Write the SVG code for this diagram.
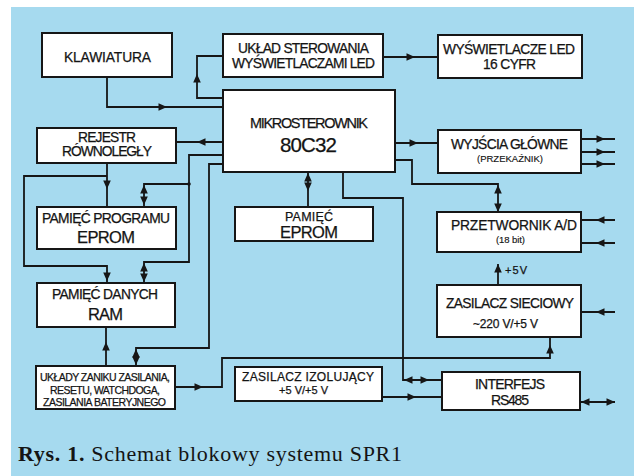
<svg xmlns="http://www.w3.org/2000/svg" xmlns:xlink="http://www.w3.org/1999/xlink" width="634" height="476" viewBox="0 0 634 476">
  <style>
    .box { fill: #ffffff; stroke: #161616; stroke-width: 2; }
    .wire { fill: none; stroke: #161616; stroke-width: 1.8; stroke-linejoin: miter; }
    .head { fill: #161616; }
    .lbl { font-family: "Liberation Sans", Arial, sans-serif; fill: #141414; stroke: #141414; stroke-width: 0.25; text-anchor: middle; font-size: 13.8px; }
    .big { font-size: 16.5px; }
    .huge { font-size: 20.5px; }
    .sm { font-size: 9.5px; stroke-width: 0.15; }
    .xs { font-size: 10.5px; }
    .mid { font-size: 12px; }
    .cap { font-family: "Liberation Serif", "Times New Roman", serif; fill: #141414; font-size: 22px; }
  </style>
  <defs>
    <!-- filled arrowhead, tip at the origin, pointing along +x -->
    <path id="ah" d="M0,0 L-8.5,-3.8 L-8.5,3.8 Z"/>
  </defs>

  <!-- page background -->
  <rect x="0" y="0" width="634" height="476" fill="#ffffff"/>
  <rect x="11" y="7" width="623" height="469" fill="#a6daef"/>

  <!-- connectors -->
  <g id="connectors">
    <g class="wire">
      <path d="M107,77 V107 H223"/>
      <path d="M223,98 H197 V56 H223"/>
      <path d="M383,57 H438"/>
      <path d="M223,142 H176"/>
      <path d="M395,143 H438"/>
      <path d="M581,139 H615 M581,152 H615 M581,164 H615"/>
      <path d="M395,160 H412 V184 H498 V212"/>
      <path d="M615,220 H581 M615,243 H581"/>
      <path d="M498,285 V264"/>
      <path d="M615,312 H581"/>
      <path d="M308,172 V207"/>
      <path d="M223,155 H189 V262 H144 V283"/>
      <path d="M189,184 H144 V207"/>
      <path d="M223,164 H209 V348 H136 V366"/>
      <path d="M107,163 V207"/>
      <path d="M107,176 H24 V266 H107 V283"/>
      <path d="M106,366 V327"/>
      <path d="M175,387 H222 V358 H550 V337"/>
      <path d="M343,172 V198 H403 V380 H442"/>
      <path d="M382,397 H442"/>
      <path d="M580,402 H615"/>
    </g>
    <circle cx="189" cy="184" r="1.8" class="head"/>
    <g class="head">
      <use xlink:href="#ah" transform="translate(167,107)"/>
      <use xlink:href="#ah" transform="translate(197,74) rotate(-90)"/>
      <use xlink:href="#ah" transform="translate(415,57)"/>
      <use xlink:href="#ah" transform="translate(197,142) rotate(180)"/>
      <use xlink:href="#ah" transform="translate(418,143)"/>
      <use xlink:href="#ah" transform="translate(605,139)"/>
      <use xlink:href="#ah" transform="translate(605,152)"/>
      <use xlink:href="#ah" transform="translate(605,164)"/>
      <use xlink:href="#ah" transform="translate(498,185) rotate(-90)"/>
      <use xlink:href="#ah" transform="translate(498,212) rotate(90)"/>
      <use xlink:href="#ah" transform="translate(596,220) rotate(180)"/>
      <use xlink:href="#ah" transform="translate(596,243) rotate(180)"/>
      <use xlink:href="#ah" transform="translate(498,264) rotate(-90)"/>
      <use xlink:href="#ah" transform="translate(596,312) rotate(180)"/>
      <use xlink:href="#ah" transform="translate(308,173) rotate(-90)"/>
      <use xlink:href="#ah" transform="translate(308,191) rotate(90)"/>
      <use xlink:href="#ah" transform="translate(144,185) rotate(-90)"/>
      <use xlink:href="#ah" transform="translate(144,205) rotate(90)"/>
      <use xlink:href="#ah" transform="translate(144,263) rotate(-90)"/>
      <use xlink:href="#ah" transform="translate(144,282) rotate(90)"/>
      <use xlink:href="#ah" transform="translate(136,349) rotate(-90)"/>
      <use xlink:href="#ah" transform="translate(136,365) rotate(90)"/>
      <use xlink:href="#ah" transform="translate(107,189) rotate(90)"/>
      <use xlink:href="#ah" transform="translate(107,281) rotate(90)"/>
      <use xlink:href="#ah" transform="translate(106,342) rotate(-90)"/>
      <use xlink:href="#ah" transform="translate(203,387)"/>
      <use xlink:href="#ah" transform="translate(550,345) rotate(-90)"/>
      <use xlink:href="#ah" transform="translate(404,380) rotate(180)"/>
      <use xlink:href="#ah" transform="translate(429,380)"/>
      <use xlink:href="#ah" transform="translate(416,397)"/>
      <use xlink:href="#ah" transform="translate(581,402) rotate(180)"/>
      <use xlink:href="#ah" transform="translate(615,402)"/>
    </g>
  </g>

  <!-- blocks -->
  <g id="klawiatura">
    <rect class="box" x="42" y="33" width="130" height="44"/>
    <text class="lbl" x="107.5" y="62" textLength="87">KLAWIATURA</text>
  </g>
  <g id="uklad-sterowania">
    <rect class="box" x="223" y="34" width="160" height="43"/>
    <text class="lbl" x="303.5" y="53" textLength="131">UKŁAD STEROWANIA</text>
    <text class="lbl" x="303.5" y="68" textLength="143">WYŚWIETLACZAMI LED</text>
  </g>
  <g id="wyswietlacze">
    <rect class="box" x="438" y="35" width="144" height="43"/>
    <text class="lbl" x="509" y="54" textLength="132">WYŚWIETLACZE LED</text>
    <text class="lbl" x="509.5" y="69" textLength="53">16 CYFR</text>
  </g>
  <g id="mikrosterownik">
    <rect class="box" x="223" y="90" width="172" height="82"/>
    <text class="lbl" x="309" y="128" textLength="118" style="font-size:14.5px">MIKROSTEROWNIK</text>
    <text class="lbl huge" x="308.5" y="152" textLength="57">80C32</text>
  </g>
  <g id="rejestr">
    <rect class="box" x="37" y="128" width="139" height="35"/>
    <text class="lbl" x="107" y="142" textLength="58">REJESTR</text>
    <text class="lbl" x="107" y="155.5" textLength="90">RÓWNOLEGŁY</text>
  </g>
  <g id="wyjscia">
    <rect class="box" x="438" y="130" width="143" height="43"/>
    <text class="lbl" x="509.5" y="149" textLength="117">WYJŚCIA GŁÓWNE</text>
    <text class="lbl sm" x="510" y="162" textLength="66">(PRZEKAŹNIK)</text>
  </g>
  <g id="pamiec-programu">
    <rect class="box" x="37" y="207" width="139" height="42"/>
    <text class="lbl" x="106" y="223" textLength="128">PAMIĘĆ PROGRAMU</text>
    <text class="lbl big" x="106" y="243" textLength="58">EPROM</text>
  </g>
  <g id="pamiec-eprom">
    <rect class="box" x="235" y="207" width="138" height="34"/>
    <text class="lbl" x="309" y="221" textLength="48" style="font-size:12.5px">PAMIĘĆ</text>
    <text class="lbl big" x="309" y="238" textLength="58">EPROM</text>
  </g>
  <g id="przetwornik">
    <rect class="box" x="437" y="212" width="144" height="40"/>
    <text class="lbl" x="514" y="230" textLength="126">PRZETWORNIK A/D</text>
    <text class="lbl sm" x="510.5" y="243" textLength="29">(18 bit)</text>
  </g>
  <g id="plus5v">
    <text class="lbl" x="505" y="274" textLength="22" style="font-size:11px;text-anchor:start">+5V</text>
  </g>
  <g id="zasilacz-sieciowy">
    <rect class="box" x="437" y="285" width="144" height="52"/>
    <text class="lbl" x="510" y="308" textLength="128">ZASILACZ SIECIOWY</text>
    <text class="lbl mid" x="505.5" y="328" textLength="65">~220 V/+5 V</text>
  </g>
  <g id="pamiec-danych">
    <rect class="box" x="37" y="283" width="138" height="44"/>
    <text class="lbl" x="105" y="299" textLength="106">PAMIĘĆ DANYCH</text>
    <text class="lbl big" x="105.5" y="320" textLength="35">RAM</text>
  </g>
  <g id="uklady-zaniku">
    <rect class="box" x="36" y="366" width="139" height="43"/>
    <text class="lbl xs" x="105" y="381" textLength="130">UKŁADY ZANIKU ZASILANIA,</text>
    <text class="lbl xs" x="105" y="393.5" textLength="110">RESETU, WATCHDOGA,</text>
    <text class="lbl xs" x="104.5" y="406" textLength="123">ZASILANIA BATERYJNEGO</text>
  </g>
  <g id="zasilacz-izolujacy">
    <rect class="box" x="235" y="367" width="147" height="34"/>
    <text class="lbl mid" x="308" y="381" textLength="132">ZASILACZ IZOLUJĄCY</text>
    <text class="lbl" x="303.5" y="394" textLength="49" style="font-size:11px">+5 V/+5 V</text>
  </g>
  <g id="interfejs">
    <rect class="box" x="442" y="372" width="138" height="38"/>
    <text class="lbl" x="510" y="389" textLength="70" style="font-size:14px">INTERFEJS</text>
    <text class="lbl" x="510" y="405" textLength="38" style="font-size:14px">RS485</text>
  </g>

  <!-- figure caption -->
  <text class="cap" x="18" y="461" textLength="384"><tspan font-weight="bold">Rys. 1.</tspan> Schemat blokowy systemu SPR1</text>
</svg>
